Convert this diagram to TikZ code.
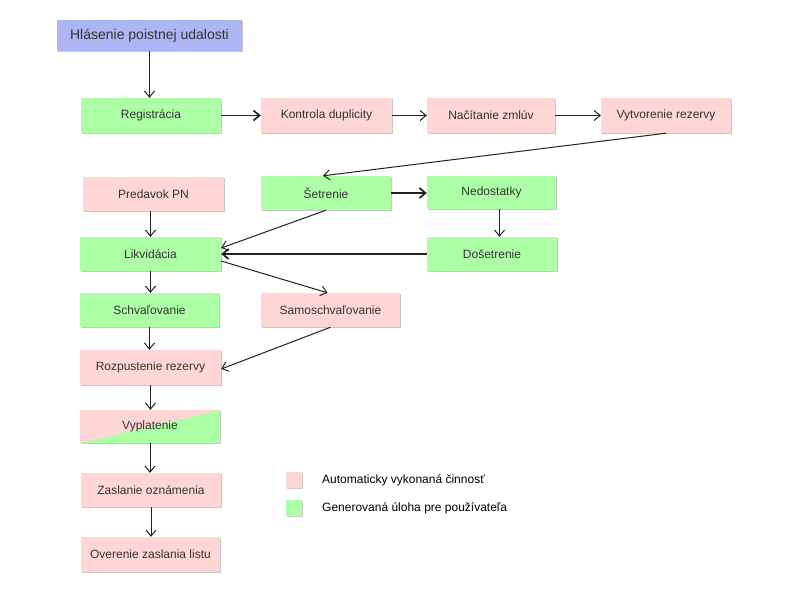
\documentclass[tikz,border=0pt]{standalone}
\usepackage{fontspec}
\setmainfont{Liberation Sans}
\usetikzlibrary{arrows.meta,shadows,calc}
\definecolor{pinkbox}{HTML}{FFD6D6}
\definecolor{greenbox}{HTML}{ADFFA5}
\definecolor{bluebox}{HTML}{ADB6F5}
\definecolor{txt}{HTML}{333333}
\definecolor{ln}{HTML}{222222}
\tikzset{
  box/.style={draw=none, inner sep=0pt, minimum width=140pt, minimum height=34pt,
    font=\fontsize{12}{14}\selectfont, text=txt,
    drop shadow={shadow xshift=0.8pt, shadow yshift=-1.2pt, opacity=0.22, fill=black}},
  auto/.style={box, fill=pinkbox},
  user/.style={box, fill=greenbox},
  arr/.style={draw=ln, line width=1pt, -{Straight Barb[length=6pt,width=10pt]}},
  thickarr/.style={arr, line width=1.7pt},
  legsq/.style={draw=none, minimum width=16pt, minimum height=16pt, inner sep=0pt,
    drop shadow={shadow xshift=0.6pt, shadow yshift=-0.8pt, opacity=0.2, fill=black}},
  legtxt/.style={anchor=west, inner sep=0pt, font=\fontsize{12}{14}\selectfont, text=black}
}
\begin{document}
\begin{tikzpicture}[x=1pt,y=-1pt]
\useasboundingbox[fill=white] (0,0) rectangle (800,600);

\node[box, fill=bluebox, minimum width=185pt, minimum height=31pt, font=\fontsize{14}{16}\selectfont] (hl) at (149.5,35.5) {Hlásenie poistnej udalosti};

\node[user, minimum height=35pt] (reg) at (151,115.5) {Registrácia};
\node[auto, minimum width=131pt, minimum height=35pt] (kon) at (326.5,115.5) {Kontrola duplicity};
\node[auto, minimum width=128pt, minimum height=35pt] (nac) at (491,115.5) {Načítanie zmlúv};
\node[auto, minimum width=130pt, minimum height=35pt] (vyt) at (666,115.5) {Vytvorenie rezervy};

\node[auto, minimum width=141pt] (pred) at (153.5,194) {Predavok PN};
\node[user, minimum width=130pt] (set) at (326,193) {Šetrenie};
\node[user, minimum width=129pt, minimum height=33pt] (ned) at (491.5,192.5) {Nedostatky};

\node[user, minimum width=141pt] (lik) at (150.5,254) {Likvidácia};
\node[user, minimum width=130pt] (dos) at (492,254) {Došetrenie};

\node[user, minimum width=139pt] (sch) at (149.5,310) {Schvaľovanie};
\node[auto, minimum width=139pt] (sam) at (330.5,310) {Samoschvaľovanie};

\node[auto, minimum width=141pt, minimum height=35pt] (roz) at (150.5,367.5) {Rozpustenie rezervy};
\node[auto, minimum height=33pt,
  path picture={\fill[greenbox] (path picture bounding box.south west) -- (path picture bounding box.north east) -- (path picture bounding box.south east) -- cycle;}]
  (vyp) at (150,426.5) {Vyplatenie};
\node[auto] (zas) at (151,490) {Zaslanie oznámenia};
\node[auto, minimum width=139pt, minimum height=35pt] (ove) at (150.5,554.5) {Overenie zaslania listu};

% legend
\node[legsq, fill=pinkbox] (lega) at (294,480) {};
\node[legsq, fill=greenbox] (legb) at (294,508) {};
\node[legtxt] (legat) at (322,480) {Automaticky vykonaná činnosť};
\node[legtxt] (legbt) at (322,508) {Generovaná úloha pre používateľa};

% connectors
\draw[arr] (hl.south) -- (hl.south |- reg.north);
\draw[thickarr] (reg.east) -- (kon.west);
\draw[arr] (kon.east) -- (nac.west);
\draw[arr] (nac.east) -- (vyt.west);
\draw[arr] (vyt.south) -- ($(set.north)+(-3,0)$);
\draw[thickarr] (set.east) -- (ned.west |- set.east);
\draw[arr] ($(ned.south)+(8,0)$) -- ($(dos.north)+(7.5,0)$);
\draw[arr] (set.south) -- ($(lik.east)+(0,-6)$);
\draw[thickarr] (dos.west) -- (lik.east);
\draw[arr] ($(lik.east)+(0,7)$) -- ($(sam.north)+(-3,0)$);
\draw[arr] (lik.north |- pred.south) -- (lik.north);
\draw[arr] (lik.south) -- (lik.south |- sch.north);
\draw[arr] (sch.south) -- (sch.south |- roz.north);
\draw[arr] (sam.south) -- ($(roz.east)+(0,1.5)$);
\draw[arr] (roz.south) -- (roz.south |- vyp.north);
\draw[arr] (vyp.south) -- (vyp.south |- zas.north);
\draw[arr] (zas.south) -- (zas.south |- ove.north);
\end{tikzpicture}
\end{document}
